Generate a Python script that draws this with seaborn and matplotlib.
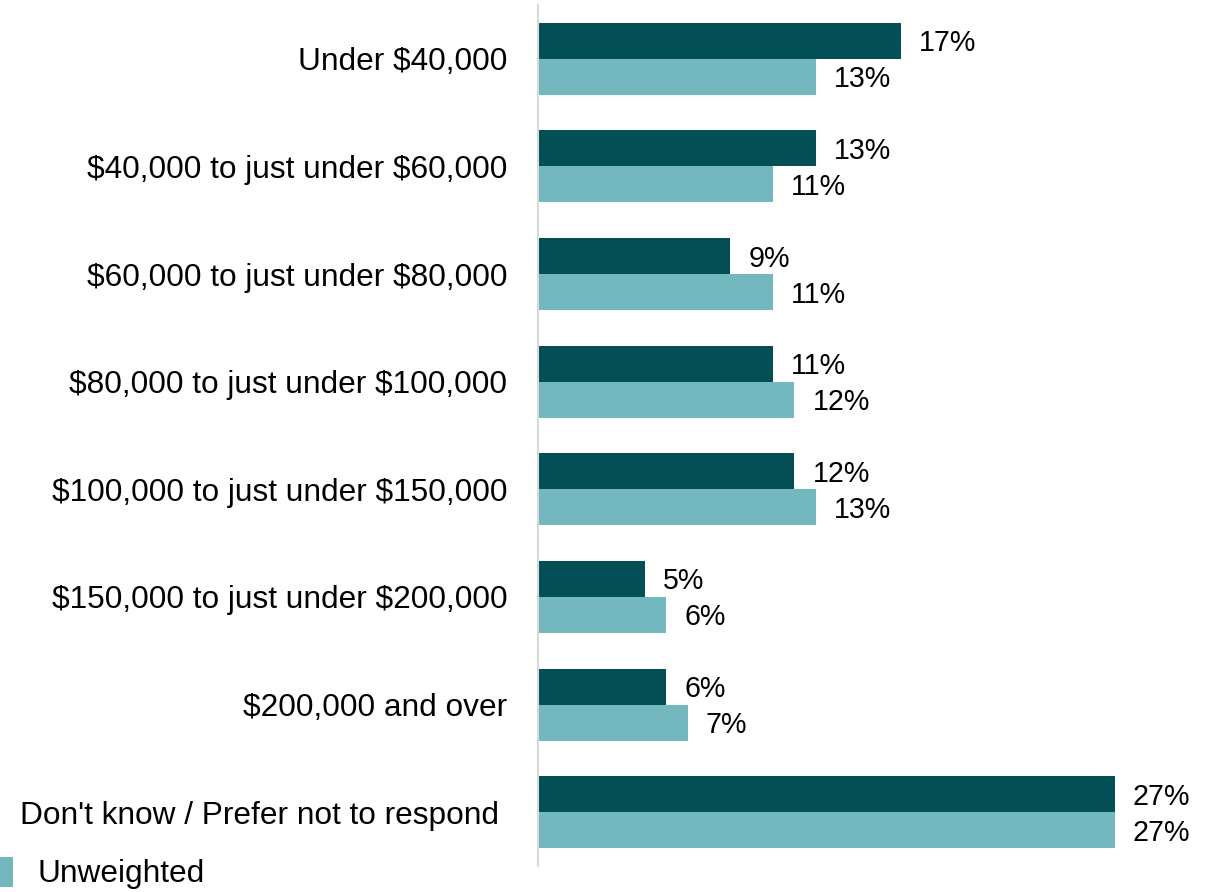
import matplotlib
matplotlib.use("Agg")
import matplotlib.pyplot as plt
import seaborn as sns
import pandas as pd
from matplotlib.patches import Rectangle

categories = [
    "Under $40,000",
    "$40,000 to just under $60,000",
    "$60,000 to just under $80,000",
    "$80,000 to just under $100,000",
    "$100,000 to just under $150,000",
    "$150,000 to just under $200,000",
    "$200,000 and over",
    "Don't know / Prefer not to respond ",
]
weighted = [17, 13, 9, 11, 12, 5, 6, 27]
unweighted = [13, 11, 11, 12, 13, 6, 7, 27]
series_names = ["Weighted", "Unweighted"]
colors = ["#044F55", "#73B8BE"]

df = pd.DataFrame({
    "category": categories * 2,
    "value": weighted + unweighted,
    "series": [series_names[0]] * len(categories) + [series_names[1]] * len(categories),
})

sns.set_theme(style="white")
plt.rcParams["font.family"] = ["Liberation Sans", "DejaVu Sans"]
plt.rcParams["text.parse_math"] = False

FS = 22.8
FS_LAB = 20.6
W, H = 1213, 892
fig = plt.figure(figsize=(W / 100, H / 100), dpi=100)
ax = fig.add_axes([538 / W, (H - 866) / H, (W - 538) / W, (866 - 5) / H])

sns.barplot(data=df, y="category", x="value", hue="series", order=categories,
            hue_order=series_names, palette=colors, orient="h", width=0.67,
            saturation=1, legend=False, ax=ax, linewidth=0)

for cont in ax.containers:
    anns = ax.bar_label(cont, labels=[f"{v:.0f}%" for v in cont.datavalues],
                        padding=13, fontsize=FS_LAB, color="black")
    for a in anns:
        a.xyann = (a.xyann[0], -1.8)

ax.set_xlim(0, 31.6)
ax.set_ylim(7.5, -0.5)
ax.set_xlabel("")
ax.set_ylabel("")
ax.set_xticks([])
ax.tick_params(axis="y", length=0, pad=22, labelsize=FS, labelcolor="black")
for s in ["top", "right", "bottom"]:
    ax.spines[s].set_visible(False)
ax.spines["left"].set_color("#D9D9D9")
ax.spines["left"].set_linewidth(1.5)

# Legend (only the visible entry)
fig.patches.append(Rectangle((0, (H - 887) / H), 13 / W, 30 / H,
                             transform=fig.transFigure, facecolor=colors[1],
                             edgecolor="none"))
fig.text(37 / W, (H - 874) / H, series_names[1], fontsize=FS,
         va="center", ha="left", color="black")

fig.savefig("out.png", dpi=100)
